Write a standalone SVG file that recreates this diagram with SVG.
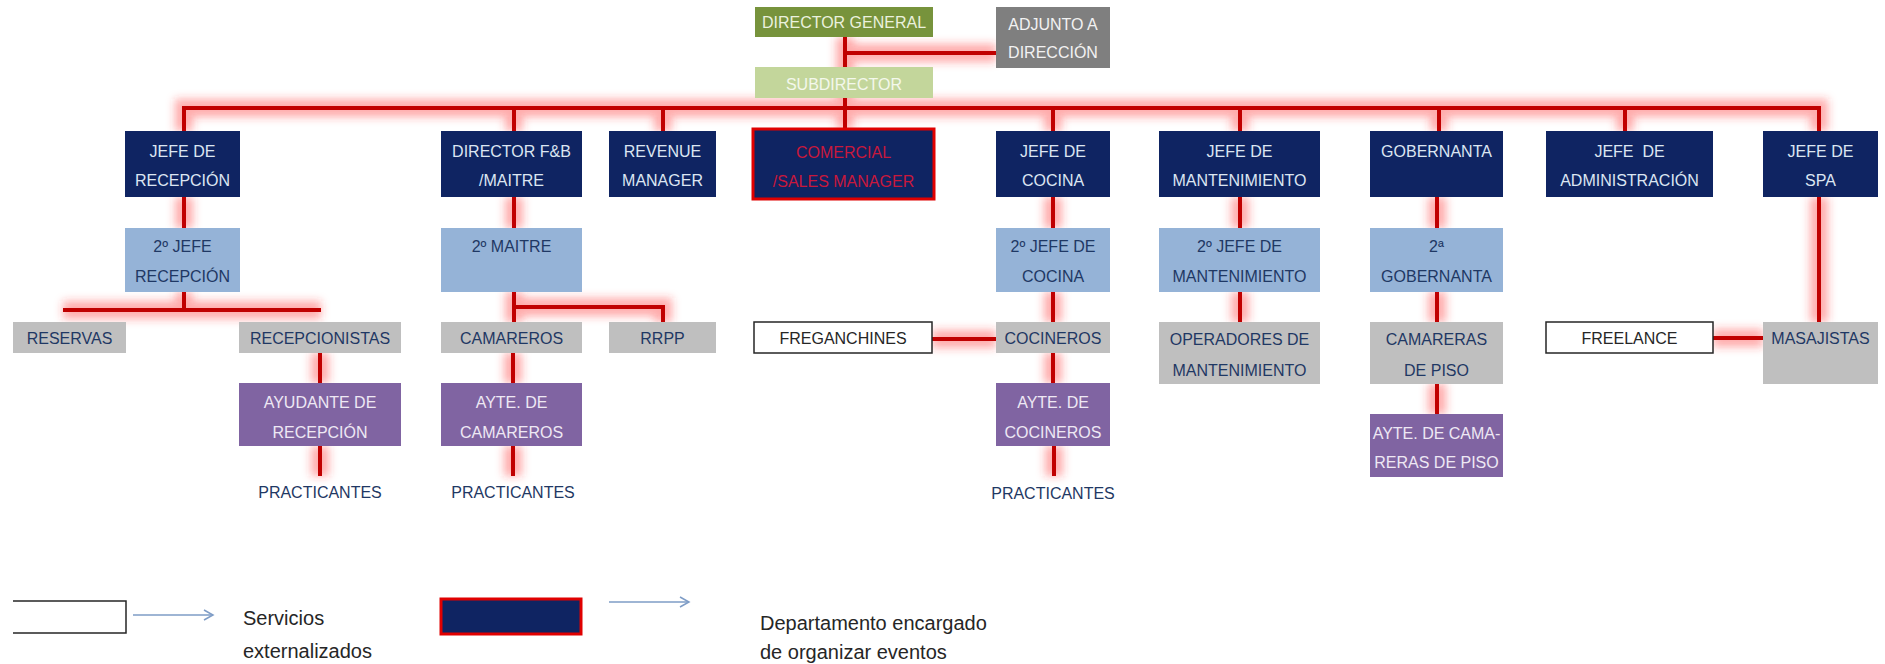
<svg xmlns="http://www.w3.org/2000/svg" xmlns:xlink="http://www.w3.org/1999/xlink" width="1885" height="664" viewBox="0 0 1885 664">
<style>
text{font-family:"Liberation Sans",Arial,sans-serif;font-size:16px;text-anchor:middle;dominant-baseline:central}
.navy{fill:#0F2462}
.navy-t{fill:#DCE6F2}
.lblue{fill:#95B3D7}
.gray{fill:#BFBFBF}
.purple{fill:#8064A2}
.purple-t{fill:#EEE8F4}
.dark-t{fill:#1F3864}
.ext{fill:#FFFFFF;stroke:#262626;stroke-width:1.5}
.event{stroke:#E00000;stroke-width:3}
.halo{fill:none;stroke:#FF3030;stroke-width:18;stroke-opacity:0.4;filter:url(#blur)}
.wire{fill:none;stroke:#C00000;stroke-width:4}
.legend-t{fill:#262626;font-size:20px;text-anchor:start}
.larrow{fill:none;stroke:#7E9CC6;stroke-width:1.5}
</style>
<defs>
<filter id="blur" filterUnits="userSpaceOnUse" x="0" y="0" width="1885" height="664">
<feGaussianBlur stdDeviation="4.5"/>
</filter>
<path id="wires" d="M845 37V108 M845 53H996 M184 131V108H1819V131 M514 108V131 M663 108V131 M845 108V129 M1053 108V131 M1240 108V131 M1439 108V131 M1625 108V131 M184 197V228 M184 292V310 M63 310H321 M320 353V383 M320 446V476 M514 197V228 M514 292V322 M514 307H663V322 M513 353V383 M513 446V476 M1053 197V228 M1053 292V322 M932 339H996 M1053 353V383 M1054 446V476 M1240 197V228 M1240 292V322 M1437 197V228 M1437 292V322 M1437 384V414 M1819 197V322 M1713 338H1763"/>
<marker id="open-arrow" markerWidth="12" markerHeight="12" refX="10" refY="6" orient="auto" markerUnits="userSpaceOnUse">
<path d="M1 1L10 6L1 11" fill="none" stroke="#7E9CC6" stroke-width="1.5"/>
</marker>
</defs>
<rect width="1885" height="664" fill="#FFFFFF"/>
<g id="connectors">
<use xlink:href="#wires" class="halo"/>
<use xlink:href="#wires" class="wire"/>
</g>
<g id="director-general"><rect x="755" y="7" width="178" height="30" fill="#77933C"/><text x="844" y="22" fill="#EBF1DE">DIRECTOR GENERAL</text></g>
<g id="adjunto-direccion"><rect x="996" y="7" width="114" height="61" fill="#7F7F7F"/><text fill="#F2F2F2"><tspan x="1053" y="24">ADJUNTO A</tspan><tspan x="1053" y="52">DIRECCIÓN</tspan></text></g>
<g id="subdirector"><rect x="755" y="67" width="178" height="31" fill="#C3D69B"/><text x="844" y="84" fill="#F4F8EC">SUBDIRECTOR</text></g>
<g id="jefe-recepcion"><rect class="navy" x="125" y="131" width="115" height="66"/><text class="navy-t"><tspan x="182.5" y="151">JEFE DE</tspan><tspan x="182.5" y="180">RECEPCIÓN</tspan></text></g>
<g id="director-fb"><rect class="navy" x="441" y="131" width="141" height="66"/><text class="navy-t"><tspan x="511.5" y="151">DIRECTOR F&amp;B</tspan><tspan x="511.5" y="180">/MAITRE</tspan></text></g>
<g id="revenue-manager"><rect class="navy" x="609" y="131" width="107" height="66"/><text class="navy-t"><tspan x="662.5" y="151">REVENUE</tspan><tspan x="662.5" y="180">MANAGER</tspan></text></g>
<g id="comercial"><rect class="navy event" x="753" y="129" width="181" height="70"/><text fill="#C8183C"><tspan x="843.5" y="152">COMERCIAL</tspan><tspan x="843.5" y="181">/SALES MANAGER</tspan></text></g>
<g id="jefe-cocina"><rect class="navy" x="996" y="131" width="114" height="66"/><text class="navy-t"><tspan x="1053" y="151">JEFE DE</tspan><tspan x="1053" y="180">COCINA</tspan></text></g>
<g id="jefe-mantenimiento"><rect class="navy" x="1159" y="131" width="161" height="66"/><text class="navy-t"><tspan x="1239.5" y="151">JEFE DE</tspan><tspan x="1239.5" y="180">MANTENIMIENTO</tspan></text></g>
<g id="gobernanta"><rect class="navy" x="1370" y="131" width="133" height="66"/><text class="navy-t" x="1436.5" y="151">GOBERNANTA</text></g>
<g id="jefe-administracion"><rect class="navy" x="1546" y="131" width="167" height="66"/><text class="navy-t" xml:space="preserve"><tspan x="1629.5" y="151">JEFE  DE</tspan><tspan x="1629.5" y="180">ADMINISTRACIÓN</tspan></text></g>
<g id="jefe-spa"><rect class="navy" x="1763" y="131" width="115" height="66"/><text class="navy-t"><tspan x="1820.5" y="151">JEFE DE</tspan><tspan x="1820.5" y="180">SPA</tspan></text></g>
<g id="segundo-jefe-recepcion"><rect class="lblue" x="125" y="228" width="115" height="64"/><text class="dark-t"><tspan x="182.5" y="246">2º JEFE</tspan><tspan x="182.5" y="276">RECEPCIÓN</tspan></text></g>
<g id="segundo-maitre"><rect class="lblue" x="441" y="228" width="141" height="64"/><text class="dark-t" x="511.5" y="246">2º MAITRE</text></g>
<g id="segundo-jefe-cocina"><rect class="lblue" x="996" y="228" width="114" height="64"/><text class="dark-t"><tspan x="1053" y="246">2º JEFE DE</tspan><tspan x="1053" y="276">COCINA</tspan></text></g>
<g id="segundo-jefe-mantenimiento"><rect class="lblue" x="1159" y="228" width="161" height="64"/><text class="dark-t"><tspan x="1239.5" y="246">2º JEFE DE</tspan><tspan x="1239.5" y="276">MANTENIMIENTO</tspan></text></g>
<g id="segunda-gobernanta"><rect class="lblue" x="1370" y="228" width="133" height="64"/><text class="dark-t"><tspan x="1436.5" y="246">2ª</tspan><tspan x="1436.5" y="276">GOBERNANTA</tspan></text></g>
<g id="reservas"><rect class="gray" x="13" y="322" width="113" height="31"/><text class="dark-t" x="69.5" y="338">RESERVAS</text></g>
<g id="recepcionistas"><rect class="gray" x="239" y="322" width="162" height="31"/><text class="dark-t" x="320" y="338">RECEPCIONISTAS</text></g>
<g id="camareros"><rect class="gray" x="441" y="322" width="141" height="31"/><text class="dark-t" x="511.5" y="338">CAMAREROS</text></g>
<g id="rrpp"><rect class="gray" x="609" y="322" width="107" height="31"/><text class="dark-t" x="662.5" y="338">RRPP</text></g>
<g id="freganchines"><rect class="ext" x="754" y="322" width="178" height="31"/><text fill="#262626" x="843" y="338">FREGANCHINES</text></g>
<g id="cocineros"><rect class="gray" x="996" y="322" width="114" height="31"/><text class="dark-t" x="1053" y="338">COCINEROS</text></g>
<g id="operadores-mantenimiento"><rect class="gray" x="1159" y="322" width="161" height="62"/><text class="dark-t"><tspan x="1239.5" y="339">OPERADORES DE</tspan><tspan x="1239.5" y="370">MANTENIMIENTO</tspan></text></g>
<g id="camareras-piso"><rect class="gray" x="1370" y="322" width="133" height="62"/><text class="dark-t"><tspan x="1436.5" y="339">CAMARERAS</tspan><tspan x="1436.5" y="370">DE PISO</tspan></text></g>
<g id="freelance"><rect class="ext" x="1546" y="322" width="167" height="31"/><text fill="#262626" x="1629.5" y="338">FREELANCE</text></g>
<g id="masajistas"><rect class="gray" x="1763" y="322" width="115" height="62"/><text class="dark-t" x="1820.5" y="338">MASAJISTAS</text></g>
<g id="ayudante-recepcion"><rect class="purple" x="239" y="383" width="162" height="63"/><text class="purple-t"><tspan x="320" y="402">AYUDANTE DE</tspan><tspan x="320" y="432">RECEPCIÓN</tspan></text></g>
<g id="ayte-camareros"><rect class="purple" x="441" y="383" width="141" height="63"/><text class="purple-t"><tspan x="511.5" y="402">AYTE. DE</tspan><tspan x="511.5" y="432">CAMAREROS</tspan></text></g>
<g id="ayte-cocineros"><rect class="purple" x="996" y="383" width="114" height="63"/><text class="purple-t"><tspan x="1053" y="402">AYTE. DE</tspan><tspan x="1053" y="432">COCINEROS</tspan></text></g>
<g id="ayte-camareras-piso"><rect class="purple" x="1370" y="414" width="133" height="63"/><text class="purple-t"><tspan x="1436.5" y="433">AYTE. DE CAMA-</tspan><tspan x="1436.5" y="462">RERAS DE PISO</tspan></text></g>
<g id="practicantes-recepcion"><text class="dark-t" x="320" y="492">PRACTICANTES</text></g>
<g id="practicantes-camareros"><text class="dark-t" x="513" y="492">PRACTICANTES</text></g>
<g id="practicantes-cocina"><text class="dark-t" x="1053" y="493">PRACTICANTES</text></g>
<g id="legend">
<path d="M13 601H126V633H13" fill="#FFFFFF" stroke="#262626" stroke-width="1.5"/>
<line class="larrow" x1="133" y1="615" x2="213" y2="615" marker-end="url(#open-arrow)"/>
<text class="legend-t"><tspan x="243" y="618">Servicios</tspan><tspan x="243" y="651">externalizados</tspan></text>
<rect class="navy event" x="441" y="599" width="140" height="35"/>
<line class="larrow" x1="609" y1="602" x2="689" y2="602" marker-end="url(#open-arrow)"/>
<text class="legend-t"><tspan x="760" y="623">Departamento encargado</tspan><tspan x="760" y="652">de organizar eventos</tspan></text>
</g>
</svg>
